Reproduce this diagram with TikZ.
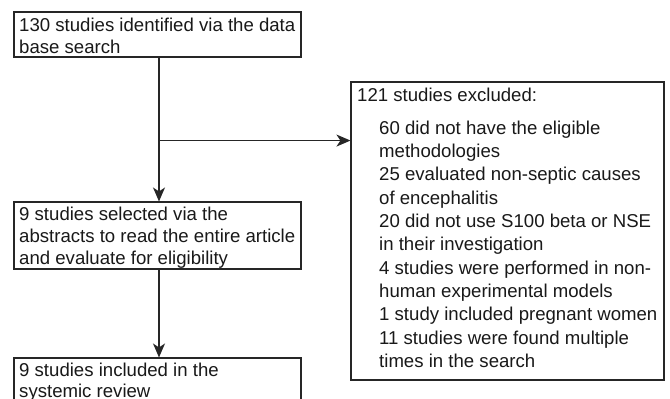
\documentclass[tikz,border=0pt]{standalone}
\usepackage{fontspec}
\setmainfont{Liberation Sans}
\usetikzlibrary{arrows.meta,calc}
\begin{document}
\begin{tikzpicture}[x=1pt,y=-1pt,
  box/.style={draw=black!85,line width=1.1pt,rectangle,inner sep=0pt},
  txt/.style={anchor=base west,inner sep=0pt,text=black!90,font=\fontsize{18.6}{21.7}\selectfont},
  arr/.style={draw=black!85,line width=1.1pt,-{Stealth[length=14pt,width=12pt,inset=4pt]}}]
\useasboundingbox (0,0) rectangle (670,399);
\clip (0,0) rectangle (670,399);
\fill[white] (0,0) rectangle (670,399);
% boxes
\node[box,minimum width=287pt,minimum height=45pt] (b1) at (157.5,34.5) {};
\node[box,minimum width=287pt,minimum height=67pt] (b2) at (157.5,235.5) {};
\node[box,minimum width=287pt,minimum height=67pt] (b3) at (157.5,391.5) {};
\node[box,minimum width=313pt,minimum height=298pt] (rb) at (507.5,231) {};
% texts
\node[txt] (t1a) at (19,31.7) {130 studies identified via the data};
\node[txt] (t1b) at (19,53.3) {base search};
\node[txt] (t2a) at (19,220.7) {9 studies selected via the};
\node[txt] (t2b) at (19,242.3) {abstracts to read the entire article};
\node[txt] (t2c) at (19,264) {and evaluate for eligibility};
\node[txt] (t3a) at (19,376) {9 studies included in the};
\node[txt] (t3b) at (19,397.7) {systemic review};
\node[txt] (r0) at (357,101.7) {121 studies excluded:};
\foreach \t [count=\k from 0] in {60 did not have the eligible,methodologies,25 evaluated non-septic causes,of encephalitis,20 did not use S100 beta or NSE,in their investigation,4 studies were performed in non-,human experimental models,1 study included pregnant women,11 studies were found multiple,times in the search}
  \node[txt] (r\k) at (379,134.3+23.3*\k) {\t};
% connectors
\coordinate (j) at ($(b1.south)+(1.5,140-57)$);
\draw[arr] ($(b1.south)+(1.5,0)$) -- ($(b2.north)+(1.5,0)$);
\draw[arr] (j) -- (j -| rb.west);
\draw[arr] ($(b2.south)+(1.5,0)$) -- ($(b3.north)+(1.5,0)$);
\end{tikzpicture}
\end{document}
